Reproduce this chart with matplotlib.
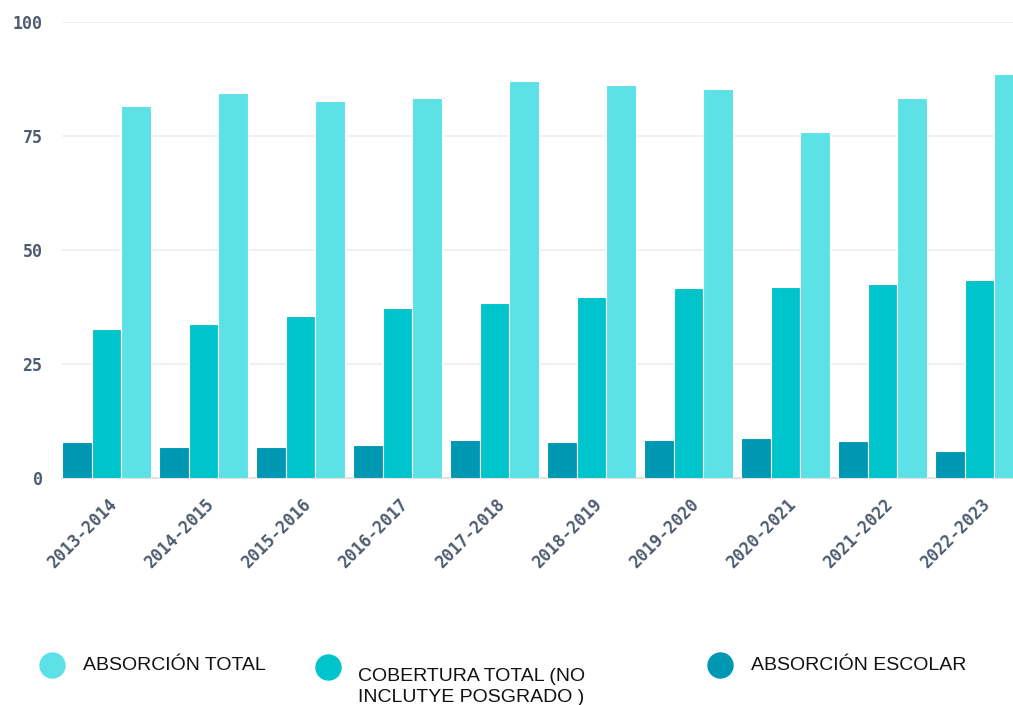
import numpy as np
import matplotlib.pyplot as plt
import matplotlib.transforms as mtransforms
from matplotlib.lines import Line2D

# data
periodos = ["2013-2014", "2014-2015", "2015-2016", "2016-2017", "2017-2018",
            "2018-2019", "2019-2020", "2020-2021", "2021-2022", "2022-2023"]
absorcion_escolar = [8.0, 6.9, 6.9, 7.2, 8.3, 7.9, 8.3, 8.8, 8.1, 6.0]
cobertura_total = [32.7, 33.8, 35.6, 37.2, 38.4, 39.6, 41.7, 41.9, 42.5, 43.4]
absorcion_total = [81.6, 84.4, 82.7, 83.4, 87.0, 86.1, 85.2, 75.9, 83.4, 88.7]

c_dark = "#0097b2"
c_mid = "#00c4cc"
c_light = "#5ce1e6"
tick_color = "#4f5b6e"

fig = plt.figure(figsize=(10.13, 7.05), dpi=100)
ax = fig.add_axes([62 / 1013, (705 - 478) / 705, 1 - 62 / 1013, (478 - 22) / 705])

x = np.arange(len(periodos))
w = 0.305
ax.bar(x - w, absorcion_escolar, w, color=c_dark, edgecolor="white", linewidth=0.8, zorder=3)
ax.bar(x, cobertura_total, w, color=c_mid, edgecolor="white", linewidth=0.8, zorder=3)
ax.bar(x + w, absorcion_total, w, color=c_light, edgecolor="white", linewidth=0.8, zorder=3)

ax.set_xlim(-0.459, 9.345)
ax.set_ylim(0, 100)
ax.set_yticks([0, 25, 50, 75, 100])
ax.yaxis.grid(True, color="#eeeeee", linewidth=1.2, zorder=0)
ax.set_axisbelow(True)
for s in ["top", "right", "left"]:
    ax.spines[s].set_visible(False)
ax.spines["bottom"].set_color("#dddddd")
ax.spines["bottom"].set_linewidth(1.2)
ax.tick_params(axis="both", length=0)
ax.tick_params(axis="y", pad=14)

ax.set_xticks(x)
ax.set_xticklabels(periodos, rotation=45, ha="right", va="center",
                   rotation_mode="anchor")
ax.tick_params(axis="x", pad=15)
shift = mtransforms.ScaledTranslation(0.08, -0.025, fig.dpi_scale_trans)
for lab in ax.get_xticklabels():
    lab.set_transform(lab.get_transform() + shift)
for lab in ax.get_xticklabels() + ax.get_yticklabels():
    lab.set_fontfamily("DejaVu Sans Mono")
    lab.set_fontsize(12)
    lab.set_fontweight("bold")
    lab.set_color(tick_color)

# custom legend below the chart
items = [
    (52, 665, c_light, 83, 665, "ABSORCIÓN TOTAL"),
    (328, 667, c_mid, 358, 687, "COBERTURA TOTAL (NO\nINCLUTYE POSGRADO )"),
    (720, 665, c_dark, 751, 665, "ABSORCIÓN ESCOLAR"),
]
for mx, my, col, tx, ty, txt in items:
    fig.add_artist(Line2D([mx / 1013], [1 - my / 705], marker="o", markersize=18,
                          color=col, linestyle="none", transform=fig.transFigure))
    fig.text(tx / 1013, 1 - ty / 705, txt, fontsize=14, family="Liberation Sans",
             color="#111111", va="center", ha="left", linespacing=1.3)

fig.savefig("out.png", dpi=100)
